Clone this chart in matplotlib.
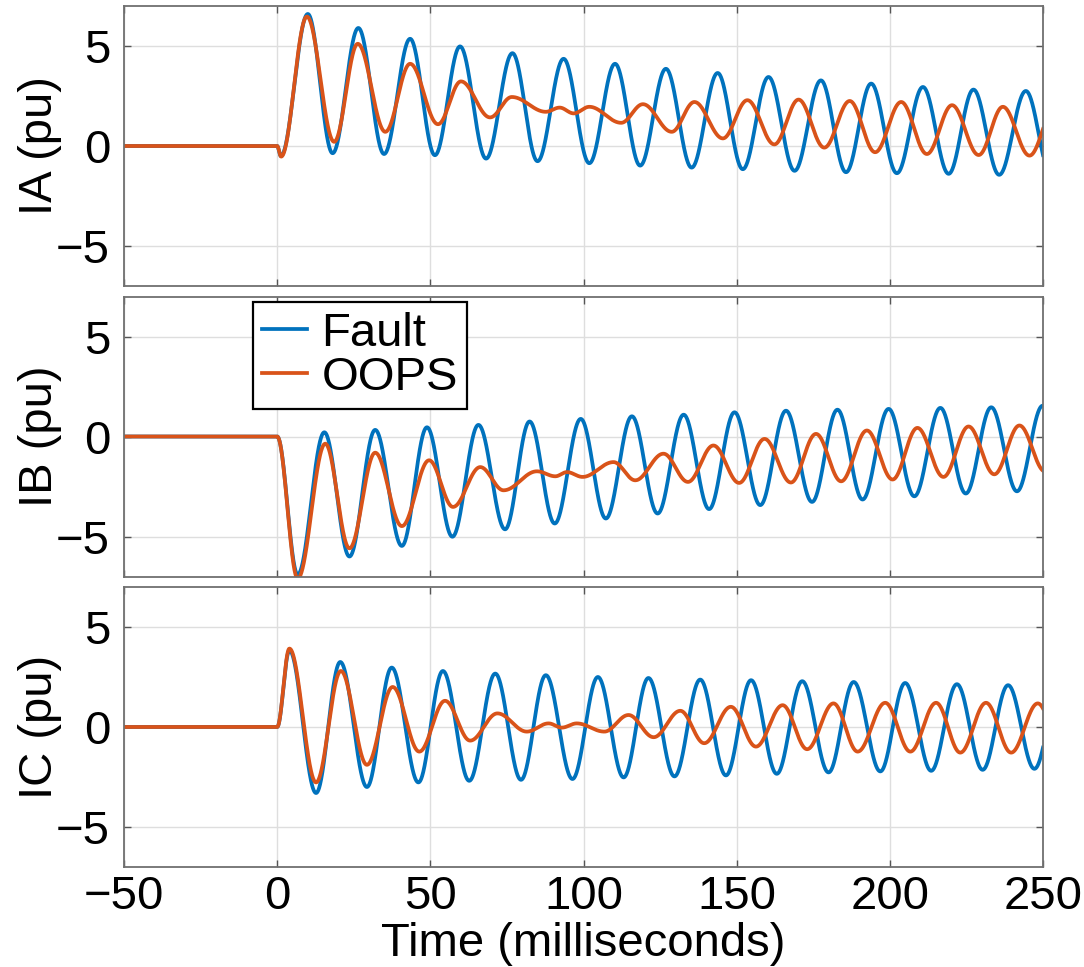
import numpy as np
import matplotlib.pyplot as plt

# Peaks and troughs (time in ms, current in pu).
# The first two points are the flat pre-fault part, the last one sits
# just past the right edge so the trace runs out of the frame.
IA_FAULT_T = [-50, 0, 1.2, 10.0, 18.1, 26.5, 34.9, 43.4, 51.5, 59.7, 68.2, 76.8, 85.0,
              93.5, 101.9, 110.3, 118.5, 126.9, 135.3, 143.8, 152.0, 160.4, 168.9, 177.5,
              185.7, 193.9, 202.3, 210.8, 219.2, 227.3, 235.7, 244.4, 252.7]
IA_FAULT = [0, 0, -0.5, 6.6, -0.36, 5.9, -0.4, 5.36, -0.46, 4.98, -0.63, 4.64, -0.76,
            4.36, -0.86, 4.11, -0.98, 3.86, -1.08, 3.65, -1.16, 3.45, -1.24, 3.28,
            -1.31, 3.12, -1.36, 2.95, -1.39, 2.82, -1.44, 2.75, -1.46]

IA_OOPS_T = [-50, 0, 1.3, 9.7, 18.6, 26.3, 35.3, 43.4, 52.5, 60.0, 69.5, 76.6, 87.7,
             92.2, 96.8, 101.9, 112.3, 119.4, 128.8, 136.2, 145.5, 153.5, 162.3, 170.2,
             178.6, 186.9, 195.2, 203.7, 212.1, 220.3, 229.0, 236.9, 245.6, 253.8]
IA_OOPS = [0, 0, -0.53, 6.47, 0.21, 5.11, 0.71, 4.11, 1.09, 3.23, 1.43, 2.45, 1.71,
           1.92, 1.63, 1.96, 1.16, 2.09, 0.71, 2.2, 0.38, 2.29, 0.08, 2.32,
           -0.08, 2.25, -0.31, 2.2, -0.4, 2.04, -0.45, 1.96, -0.48, 1.9]

IB_FAULT_T = [-50, 0, 6.7, 15.4, 23.6, 32.0, 40.7, 48.9, 57.2, 65.7, 74.4, 82.4, 90.6,
              99.1, 107.3, 115.8, 124.2, 132.7, 141.0, 149.3, 157.7, 166.1, 174.6, 182.9,
              191.1, 199.6, 208.0, 216.5, 224.8, 233.1, 241.5, 249.9, 258.2]
IB_FAULT = [0, 0, -6.9, 0.21, -6.0, 0.33, -5.47, 0.46, -5.01, 0.58, -4.64, 0.75, -4.35,
            0.88, -4.1, 1.01, -3.85, 1.09, -3.63, 1.21, -3.43, 1.29, -3.27, 1.34,
            -3.15, 1.38, -2.99, 1.43, -2.85, 1.46, -2.74, 1.54, -2.65]

IB_OOPS_T = [-50, 0, 6.7, 15.7, 23.6, 32.0, 40.7, 49.6, 57.4, 66.3, 73.9, 84.8, 90.8,
             94.6, 99.7, 109.8, 116.9, 126.1, 134.1, 142.4, 150.8, 159.1, 167.7, 175.9,
             184.1, 192.5, 200.9, 209.0, 217.5, 225.7, 234.1, 242.3, 250.7]
IB_OOPS = [0, 0, -7.1, -0.36, -5.59, -0.81, -4.48, -1.19, -3.52, -1.53, -2.69, -1.74, -1.99,
           -1.78, -2.02, -1.28, -2.19, -0.86, -2.27, -0.45, -2.32, -0.12, -2.3, 0.13,
           -2.24, 0.3, -2.15, 0.43, -2.02, 0.5, -1.89, 0.55, -1.75]

IC_FAULT_T = [-50, 0, 4.0, 12.7, 20.6, 29.3, 37.4, 46.1, 54.1, 62.7, 71.2, 79.6, 87.7,
              96.4, 104.7, 113.1, 121.2, 129.7, 138.1, 146.5, 154.7, 163.1, 171.4, 180.0,
              188.2, 196.9, 205.0, 213.5, 221.9, 230.3, 238.6, 247.2, 255.5]
IC_FAULT = [0, 0, 3.83, -3.3, 3.25, -3.0, 2.97, -2.77, 2.8, -2.69, 2.67, -2.64, 2.59,
            -2.6, 2.5, -2.52, 2.45, -2.47, 2.37, -2.42, 2.34, -2.34, 2.29, -2.27,
            2.25, -2.22, 2.2, -2.19, 2.14, -2.14, 2.09, -2.09, 2.05]

IC_OOPS_T = [-50, 0, 4.0, 12.7, 20.8, 29.3, 37.7, 46.4, 54.8, 63.0, 71.9, 81.5, 88.6,
             92.9, 97.8, 106.8, 114.7, 122.9, 131.6, 139.4, 148.1, 156.3, 165.0, 173.0,
             181.6, 189.5, 198.5, 206.7, 215.1, 223.0, 231.4, 239.6, 248.3, 256.4]
IC_OOPS = [0, 0, 3.92, -2.77, 2.8, -1.89, 2.0, -1.23, 1.31, -0.68, 0.68, -0.23, 0.18,
           -0.03, 0.18, -0.23, 0.6, -0.51, 0.81, -0.81, 1.01, -0.98, 1.09, -1.11,
           1.18, -1.23, 1.21, -1.23, 1.21, -1.28, 1.21, -1.28, 1.18, -1.25]

PANELS = [
    ('IA (pu)', (IA_FAULT_T, IA_FAULT), (IA_OOPS_T, IA_OOPS)),
    ('IB (pu)', (IB_FAULT_T, IB_FAULT), (IB_OOPS_T, IB_OOPS)),
    ('IC (pu)', (IC_FAULT_T, IC_FAULT), (IC_OOPS_T, IC_OOPS)),
]

X_TICKS = [-50, 0, 50, 100, 150, 200, 250]
Y_TICKS = [-5, 0, 5]

BLUE = '#0072BD'
ORANGE = '#D95319'


def trace(t_nodes, v_nodes, t):
    """Join consecutive peak/trough samples with half-cosine arcs."""
    t_nodes = np.asarray(t_nodes, dtype=float)
    v_nodes = np.asarray(v_nodes, dtype=float)
    i = np.clip(np.searchsorted(t_nodes, t) - 1, 0, len(t_nodes) - 2)
    t0, t1 = t_nodes[i], t_nodes[i + 1]
    v0, v1 = v_nodes[i], v_nodes[i + 1]
    f = np.clip((t - t0) / (t1 - t0), 0, 1)
    return v0 + (v1 - v0) * (1 - np.cos(np.pi * f)) / 2


plt.rcParams['font.family'] = ['Liberation Sans', 'DejaVu Sans']
plt.rcParams['font.size'] = 34
plt.rcParams['axes.unicode_minus'] = True

fig = plt.figure(figsize=(10.84, 9.67), dpi=100)

W, H = 1084, 967
left, width = 124 / W, 919 / W
tops = [6, 296.5, 587]
ph = 280

t = np.linspace(-50, 250, 6001)
axes = []
for k, (label, fault, oops) in enumerate(PANELS):
    ax = fig.add_axes([left, 1 - (tops[k] + ph) / H, width, ph / H])
    ax.plot(t, trace(*fault, t), color=BLUE, lw=2.7, label='Fault')
    ax.plot(t, trace(*oops, t), color=ORANGE, lw=2.7, label='OOPS')

    ax.set_xlim(-50, 250)
    ax.set_ylim(-7, 7)
    ax.set_xticks(X_TICKS)
    ax.set_yticks(Y_TICKS)
    ax.grid(True, color='#dedede', lw=1.0)
    ax.set_axisbelow(True)
    ax.tick_params(direction='in', length=5, width=1.0, color='#555555',
                   labelcolor='black', top=True, right=True)
    ax.tick_params(axis='y', pad=10)
    ax.tick_params(axis='x', pad=6)
    for sp in ax.spines.values():
        sp.set_color('#707070')
        sp.set_linewidth(1.3)

    ax.set_ylabel(label)
    ax.yaxis.set_label_coords(-0.0675, 0.5)
    if k < 2:
        ax.tick_params(labelbottom=False)
    axes.append(ax)

axes[-1].set_xlabel('Time (milliseconds)')
axes[-1].xaxis.set_label_coords(0.5, -0.198)

leg = axes[1].legend(loc='upper left', bbox_to_anchor=(0.1404, 0.980),
                     borderaxespad=0, fancybox=False, framealpha=1,
                     edgecolor='black', handlelength=0.95, handletextpad=0.3,
                     borderpad=0.2, labelspacing=0.0)
leg.get_frame().set_linewidth(1.6)

fig.savefig('out.png', dpi=100)
